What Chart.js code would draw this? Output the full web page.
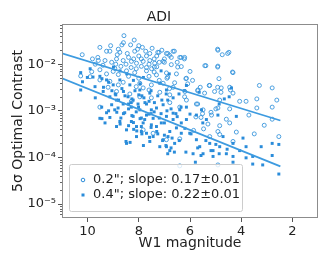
<!DOCTYPE html>
<html><head><meta charset="utf-8">
<script src="https://cdn.jsdelivr.net/npm/chart.js@4"></script>
<style>html,body{margin:0;padding:0;background:#fff}#wrap{width:332px;height:266px;position:relative}</style>
</head><body><div id="wrap"><canvas id="c" width="332" height="266"></canvas></div>
<script>
// 0.2" separation: W1 magnitude and 5-sigma contrast
const w1Small = [8.58,8.18,9.52,8.66,8.32,7.86,7.48,8.05,9.26,9.13,8.84,8.74,8.45,8.16,7.73,7.57,7.21,6.92,6.66,6.40,6.21,6.73,10.21,9.81,9.58,9.32,9.06,8.87,8.61,8.29,8.09,7.83,7.57,7.38,7.05,6.73,6.34,4.91,4.48,4.74,5.42,4.91,4.32,10.27,9.84,9.52,9.26,8.94,8.48,8.16,7.70,7.31,6.92,6.53,6.14,4.87,9.52,9.13,8.61,7.96,7.51,7.05,6.66,5.23,4.78,4.45,4.42,3.29,2.79,5.69,7.83,7.18,6.79,6.21,5.43,5.04,4.32,4.06,3.81,3.39,2.61,4.84,5.75,6.14,7.51,7.96,8.35,8.87,9.52,8.29,6.79,6.40,5.49,4.91,4.45,3.39,2.79,5.57,5.16,4.58,3.70,2.79,5.30,4.84,4.45,5.86,5.47,4.91,4.19,3.10,3.49,2.53,5.23,4.84,4.32,6.40,6.92,7.44,7.83,4.91,6.40,
8.4,8.2,8.0,7.9,7.7,7.6,7.4,7.2,7.0,8.9,8.7,8.5,8.3,8.1,7.9,7.7,7.5,7.3,9.4,9.7,9.0,8.8,8.4,8.0,7.6,7.2,6.9,6.6,7.4,8.6,8.8,9.1,7.3,6.5,6.0,5.9,5.6,6.2,6.8,7.6,8.1,8.8,9.2,9.9,9.6,8.0,7.1,6.8,
7.26,6.87,6.61,6.35,6.22,6.48,7.00,7.39,6.87,6.16,6.09,5.70,5.25,4.92,4.79,5.38,4.92,4.53,4.34,4.92,5.70,5.51,5.18,5.77,4.99];
const contrastSmall = [4.1e-2,3.3e-2,2.3e-2,2.6e-2,2.6e-2,2.3e-2,2.2e-2,2.1e-2,1.9e-2,1.9e-2,1.6e-2,1.8e-2,1.7e-2,1.9e-2,1.9e-2,1.7e-2,1.8e-2,1.7e-2,1.9e-2,1.4e-2,1.4e-2,1.4e-2,1.6e-2,1.3e-2,1.2e-2,1.2e-2,1.1e-2,1.3e-2,1.2e-2,1.15e-2,1.05e-2,1.15e-2,1.2e-2,1.05e-2,1.15e-2,9.8e-3,8.9e-3,2.0e-2,1.8e-2,1.6e-2,9.3e-3,9.1e-3,6.6e-3,5.6e-3,6.9e-3,7.6e-3,6.2e-3,8.1e-3,7.2e-3,6.6e-3,7.2e-3,5.9e-3,6.5e-3,6.2e-3,5.0e-3,4.9e-3,4.6e-3,4.3e-3,4.1e-3,3.9e-3,3.6e-3,3.9e-3,3.2e-3,3.5e-3,3.1e-3,3.2e-3,2.8e-3,3.5e-3,3.1e-3,2.8e-3,3.1e-3,2.5e-3,2.2e-3,2.0e-3,2.4e-3,2.6e-3,2.4e-3,1.6e-3,1.6e-3,1.8e-3,1.7e-3,1.7e-3,1.4e-3,1.7e-3,1.9e-3,2.0e-3,2.3e-3,2.6e-3,1.2e-3,1.6e-3,1.5e-3,1.2e-3,1.05e-3,1.15e-3,1.1e-3,1.15e-3,1.2e-3,7.2e-4,8.1e-4,6.6e-4,8.1e-4,6.6e-4,5.2e-4,4.8e-4,5.5e-4,3.8e-4,4.1e-4,3.6e-4,3.5e-4,4.9e-4,3.2e-4,2.8e-4,2.8e-4,3.1e-4,2.2e-4,2.5e-4,2.4e-4,3.3e-4,3.9e-4,6.9e-5,6.6e-5,
1.4e-2,1.3e-2,1.5e-2,1.3e-2,1.5e-2,1.0e-2,1.3e-2,1.1e-2,1.3e-2,1.0e-2,9.0e-3,1.0e-2,8.5e-3,8.0e-3,9.0e-3,8.5e-3,8.0e-3,8.8e-3,9.5e-3,1.0e-2,7.0e-3,6.0e-3,5.5e-3,5.0e-3,5.5e-3,4.5e-3,5.0e-3,4.0e-3,6.8e-3,2.9e-2,2.1e-2,2.5e-2,1.5e-2,1.1e-2,7.0e-3,4.5e-3,3.2e-3,2.6e-3,3.0e-3,2.8e-3,3.3e-3,3.6e-3,3.2e-3,5.4e-3,1.4e-2,2.5e-2,2.0e-2,1.55e-2,
1.8e-2,1.7e-2,1.9e-2,1.4e-2,1.3e-2,8.7e-3,1.1e-2,8.7e-3,5.3e-3,4.9e-3,3.8e-3,2.7e-3,3.5e-3,3.2e-3,2.5e-3,9.3e-3,8.7e-3,1.7e-2,6.8e-3,2.1e-2,1.4e-3,8.7e-4,9.3e-4,7.4e-4,1.1e-3];
// 0.4" separation
const w1Large = [10.27,10.01,10.27,9.71,9.52,9.26,9.39,9.13,9.45,9.26,8.87,8.61,8.94,8.55,8.29,8.22,7.96,7.70,7.44,7.83,8.09,8.48,8.74,9.13,8.87,8.48,8.09,7.70,7.44,7.31,7.12,6.92,6.66,6.40,6.14,6.79,7.05,7.18,6.92,6.79,6.60,6.34,6.01,5.75,5.62,5.88,5.49,5.23,5.10,4.84,4.58,4.32,4.32,4.06,3.81,3.55,3.22,2.79,2.53,2.79,2.53,3.55,3.16,3.81,4.32,5.79,5.10,4.38,6.14,6.43,6.66,7.18,7.57,7.96,8.35,8.74,8.22,7.70,7.31,5.36,4.91,4.19,5.75,5.55,6.92,7.51,9.52,9.32,8.50,7.90,7.57,6.53,6.14,6.86,8.29,7.77,9.06,8.81,8.42,8.03,7.51,7.05,6.66,6.34,4.71,3.93,
8.0,7.8,7.6,8.4,8.1,7.9,7.6,7.4,7.2,7.0,8.6,8.9,9.0,9.7,8.3,7.1,6.9,6.5,7.3,7.0,6.7,7.9,8.2,6.2,9.9,10.2,8.7,6.0,5.5,
9.79,9.44,9.38,9.18,9.05,8.92,8.79,8.66,8.54,8.40,8.27,8.15,8.01,7.88,7.76,9.18,8.86,8.60,8.27,9.44,7.95,8.47,8.21,7.95,7.82,8.73,8.99,
7.52,7.26,7.39,6.93,6.87,6.74,7.13,7.52,6.55,6.81,7.13,6.22,6.35,4.66,4.47,4.86,5.64,
7.52,7.26,7.07,6.94,6.74,6.87,6.61,6.42,6.16,5.96,5.70,5.57,5.38,5.18,4.99,4.86,4.55,7.58,
8.34,7.82,8.73,8.40,8.08,7.88,8.21];
const contrastLarge = [6.6e-3,5.2e-3,2.8e-3,3.3e-3,5.5e-3,4.6e-3,2.6e-3,2.0e-3,1.2e-3,9.1e-4,1.7e-3,1.4e-3,1.05e-3,9.1e-4,1.2e-3,7.6e-4,1.05e-3,8.1e-4,6.9e-4,5.5e-4,4.6e-4,3.9e-4,5.9e-4,7.2e-4,4.6e-4,2.0e-4,2.8e-4,3.3e-4,2.8e-4,4.6e-4,5.5e-4,7.6e-4,8.9e-4,1.05e-3,1.2e-3,3.6e-4,2.4e-4,1.7e-4,1.7e-4,1.4e-4,2.0e-4,3.3e-4,3.3e-4,2.4e-4,1.7e-4,1.2e-4,1.2e-4,2.0e-4,1.4e-4,1.7e-4,1.2e-4,1.05e-4,2.0e-4,1.4e-4,1.7e-4,1.05e-4,1.7e-4,2.0e-4,1.9e-4,1.1e-4,4.4e-5,7.2e-5,6.9e-5,9.8e-5,7.9e-5,7.9e-5,1.05e-4,3.1e-3,3.5e-3,2.3e-3,1.9e-3,3.9e-3,2.4e-3,2.8e-3,3.6e-3,4.6e-3,1.7e-3,1.4e-3,1.15e-3,6.5e-4,8.1e-4,7.6e-4,8.1e-4,1.05e-3,2.8e-3,5.0e-4,6.9e-4,5.5e-4,2.2e-4,3.6e-4,2.2e-4,4.3e-4,6.5e-4,2.8e-4,5.9e-4,6.5e-4,1.35e-3,1.15e-3,2.0e-3,1.4e-3,1.05e-3,1.35e-3,6.5e-4,5.5e-4,2.8e-4,2.6e-4,
2.2e-3,1.9e-3,1.6e-3,1.1e-3,9.5e-4,7.0e-4,8.5e-4,9.5e-4,7.0e-4,5.5e-4,2.6e-3,2.2e-3,3.6e-3,1.9e-3,1.5e-3,1.7e-3,1.0e-3,7.5e-4,3.6e-4,3.0e-4,2.6e-4,4.6e-4,4.0e-4,4.2e-4,8.0e-3,4.2e-3,7.0e-4,8.5e-4,5.5e-4,
5.3e-3,4.9e-3,3.2e-3,4.1e-3,2.7e-3,2.3e-3,1.7e-3,3.0e-3,2.1e-3,1.4e-3,1.8e-3,2.7e-3,1.2e-3,2.1e-3,1.5e-3,1.0e-3,9.3e-4,8.7e-4,7.9e-4,6.8e-4,6.8e-4,6.2e-3,4.5e-3,3.8e-3,5.2e-3,7.2e-3,8.7e-3,
2.7e-3,2.1e-3,1.5e-3,2.3e-3,1.7e-3,1.1e-3,8.7e-4,8.7e-4,8.7e-4,6.2e-3,7.2e-3,2.7e-3,1.2e-3,1.8e-3,2.0e-3,1.4e-3,2.5e-3,
4.4e-4,3.2e-4,2.3e-4,1.8e-4,1.6e-4,1.2e-4,1.3e-4,2.3e-4,1.3e-4,3.2e-4,1.6e-4,1.1e-4,2.3e-4,1.4e-4,1.9e-4,1.2e-4,1.5e-4,2.7e-4,
2.1e-4,1.8e-4,5.2e-4,4.8e-4,3.7e-4,3.2e-4,5.6e-4];
// fitted power-law lines (end points)
const fitW1 = [11, 2.47];
const fitSmall = [1.72e-2, 6.2e-4];
const fitLarge = [5.0e-3, 6.4e-5];
const xTicks = [2, 4, 6, 8, 10];
const yTicks = [1e-5, 1e-4, 1e-3, 1e-2];
const legendLabels = ['0.2"; slope: 0.17\u00b10.01', '0.4"; slope: 0.22\u00b10.01'];

const BLUE = '#2a8cda';
const LINE = '#3d9be0';
const FONT = 'DejaVu Sans';
const sup = {'0':'\u2070','1':'\u00b9','2':'\u00b2','3':'\u00b3','4':'\u2074','5':'\u2075','6':'\u2076','7':'\u2077','8':'\u2078','9':'\u2079','-':'\u207b'};
function fmtPow(v){const e=Math.round(Math.log10(v));return '10'+String(e).split('').map(c=>sup[c]).join('');}
const pts = (xs, ys) => xs.map((x,i)=>({x, y: ys[i]}));

const framePlugin = {
  id: 'frame',
  afterDraw(chart){
    const {ctx, chartArea:a, scales} = chart;
    ctx.save();
    ctx.strokeStyle = '#8c8c8c'; ctx.lineWidth = 1;
    ctx.strokeRect(Math.round(a.left)+0.5, Math.round(a.top)+0.5, Math.round(a.right-a.left)-1, Math.round(a.bottom-a.top)-1);
    const y = scales.y;
    ctx.strokeStyle = '#666';
    ctx.beginPath();
    for (let e=-6; e<=-1; e++) for (let m=2; m<=9; m++){
      const v = m*Math.pow(10,e);
      if (v < y.min || v > y.max) continue;
      const py = Math.round(y.getPixelForValue(v))+0.5;
      ctx.moveTo(a.left, py); ctx.lineTo(a.left-2, py);
    }
    ctx.stroke();
    ctx.restore();
  }
};
const legendPlugin = {
  id: 'innerLegend',
  afterDatasetsDraw(chart){
    const {ctx} = chart;
    const x0 = 69.5, y0 = 164.5, w = 173, h = 47;
    ctx.save();
    ctx.fillStyle = 'rgba(255,255,255,0.8)';
    ctx.strokeStyle = '#cccccc'; ctx.lineWidth = 1;
    ctx.beginPath(); ctx.roundRect(x0, y0, w, h, 2); ctx.fill(); ctx.stroke();
    ctx.font = '13px "' + FONT + '"';
    ctx.textBaseline = 'middle'; ctx.textAlign = 'left';
    const rows = [180, 195];
    ctx.strokeStyle = BLUE; ctx.lineWidth = 1;
    ctx.beginPath(); ctx.arc(83, rows[0], 1.8, 0, Math.PI*2); ctx.stroke();
    ctx.fillStyle = BLUE; ctx.fillRect(81.5, rows[1]-1.5, 3, 3);
    ctx.fillStyle = '#222';
    ctx.fillText(legendLabels[0], 93, rows[0]);
    ctx.fillText(legendLabels[1], 93, rows[1]);
    ctx.restore();
  }
};

new Chart(document.getElementById('c'), {
  type: 'scatter',
  data: { datasets: [
    { label: 'fit 0.2', type: 'line', data: pts(fitW1, fitSmall), borderColor: LINE, borderWidth: 1.8, pointRadius: 0, fill: false, order: 0 },
    { label: 'fit 0.4', type: 'line', data: pts(fitW1, fitLarge), borderColor: LINE, borderWidth: 1.8, pointRadius: 0, fill: false, order: 0 },
    { label: legendLabels[1], data: pts(w1Large, contrastLarge), pointStyle: 'rect', pointRadius: 2.1, backgroundColor: BLUE, borderWidth: 0, order: 1 },
    { label: legendLabels[0], data: pts(w1Small, contrastSmall), pointStyle: 'circle', pointRadius: 2, backgroundColor: 'rgba(0,0,0,0)', borderColor: '#3a96dd', borderWidth: 0.9, order: 2 }
  ]},
  options: {
    responsive: false, animation: false, devicePixelRatio: 1,
    layout: { padding: { left: 0, right: 14, top: 0, bottom: 0 } },
    plugins: {
      legend: { display: false }, tooltip: { enabled: false },
      title: { display: true, text: 'ADI', color: '#222', font: { family: FONT, size: 14, weight: 'normal', lineHeight: 1 }, padding: { top: 10, bottom: 0 } }
    },
    scales: {
      x: {
        type: 'linear', reverse: true, min: 1, max: 11,
        afterBuildTicks: s => { s.ticks = xTicks.map(v => ({ value: v })); },
        afterFit: s => { s.height = 48; },
        grid: { display: true, drawOnChartArea: false, drawTicks: true, tickLength: 4, color: '#555' },
        border: { display: false },
        ticks: { color: '#222', font: { family: FONT, size: 13 }, padding: 2, maxRotation: 0 },
        title: { display: true, text: 'W1 magnitude', color: '#222', font: { family: FONT, size: 14 }, padding: { top: 0, bottom: 14 } }
      },
      y: {
        type: 'logarithmic', min: Math.pow(10, -5.3), max: Math.pow(10, -1.137),
        afterBuildTicks: s => { s.ticks = yTicks.map(v => ({ value: v })); },
        afterFit: s => { s.width = 62; },
        grid: { display: true, drawOnChartArea: false, drawTicks: true, tickLength: 4, color: '#555' },
        border: { display: false },
        ticks: { color: '#222', font: { family: FONT, size: 13 }, padding: 2, callback: v => fmtPow(v) },
        title: { display: true, text: '5\u03c3 Optimal Contrast', color: '#222', font: { family: FONT, size: 14 }, padding: { top: 10, bottom: 0 } }
      }
    }
  },
  plugins: [framePlugin, legendPlugin]
});
</script></body></html>
